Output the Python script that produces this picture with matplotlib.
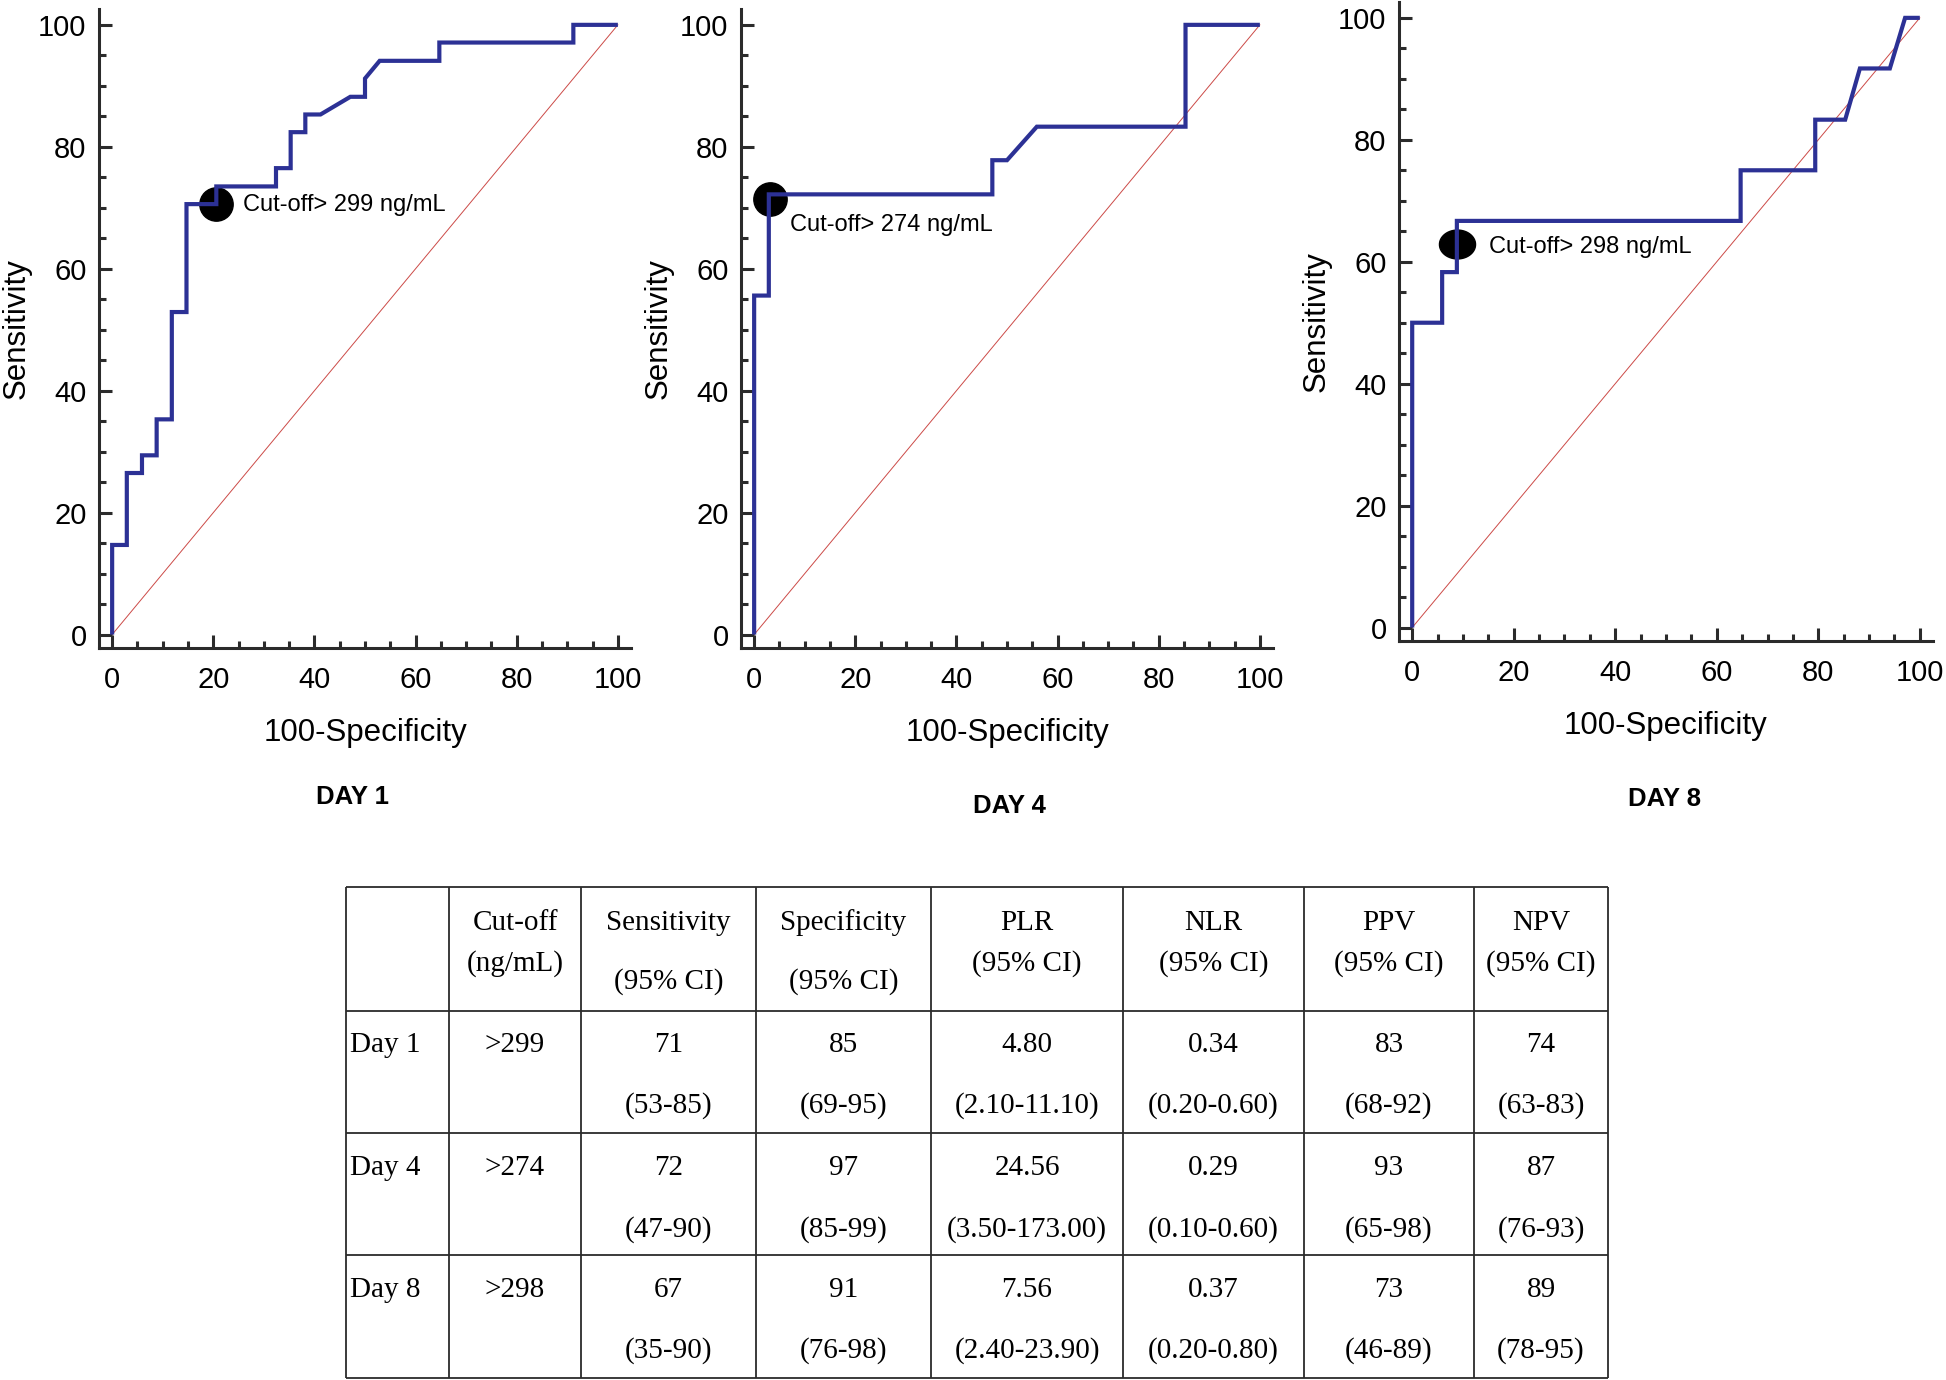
import numpy as np
import matplotlib.pyplot as plt
from matplotlib.path import Path
from matplotlib.ticker import MultipleLocator

plt.rcParams['font.family'] = ['Liberation Sans']

# ROC curves: vertices of the step lines (100-Specificity, Sensitivity), in %
day1_x = [0, 0, 2.9, 2.9, 5.9, 5.9, 8.8, 8.8, 11.8, 11.8, 14.7, 14.7, 20.6, 20.6,
          32.4, 32.4, 35.3, 35.3, 38.2, 38.2, 41.2, 47.1, 50.0, 50.0, 52.9, 64.7,
          64.7, 91.2, 91.2, 100]
day1_y = [0, 14.7, 14.7, 26.5, 26.5, 29.4, 29.4, 35.3, 35.3, 52.9, 52.9, 70.6, 70.6, 73.5,
          73.5, 76.5, 76.5, 82.4, 82.4, 85.3, 85.3, 88.2, 88.2, 91.2, 94.1, 94.1,
          97.1, 97.1, 100, 100]

day4_x = [0, 0, 2.9, 2.9, 47.1, 47.1, 50.0, 55.9, 85.3, 85.3, 100]
day4_y = [0, 55.6, 55.6, 72.2, 72.2, 77.8, 77.8, 83.3, 83.3, 100, 100]

day8_x = [0, 0, 5.9, 5.9, 8.8, 8.8, 64.7, 64.7, 79.4, 79.4, 85.3, 88.2, 94.1, 97.1, 100]
day8_y = [0, 50.0, 50.0, 58.3, 58.3, 66.7, 66.7, 75.0, 75.0, 83.3, 83.3, 91.7, 91.7, 100, 100]

# optimal cut-off points
cut_x = [20.6, 3.1, 8.8]
cut_y = [70.6, 71.4, 62.9]
cut_labels = ["Cut-off> 299 ng/mL", "Cut-off> 274 ng/mL", "Cut-off> 298 ng/mL"]
titles = ["DAY 1", "DAY 4", "DAY 8"]

# table values
col_heads = [("Cut-off", "(ng/mL)"), ("Sensitivity", "(95% CI)"), ("Specificity", "(95% CI)"),
             ("PLR", "(95% CI)"), ("NLR", "(95% CI)"), ("PPV", "(95% CI)"), ("NPV", "(95% CI)")]
row_names = ["Day 1", "Day 4", "Day 8"]
cutoffs = [">299", ">274", ">298"]
sens = ["71", "72", "67"]
sens_ci = ["(53-85)", "(47-90)", "(35-90)"]
spec = ["85", "97", "91"]
spec_ci = ["(69-95)", "(85-99)", "(76-98)"]
plr = ["4.80", "24.56", "7.56"]
plr_ci = ["(2.10-11.10)", "(3.50-173.00)", "(2.40-23.90)"]
nlr = ["0.34", "0.29", "0.37"]
nlr_ci = ["(0.20-0.60)", "(0.10-0.60)", "(0.20-0.80)"]
ppv = ["83", "93", "73"]
ppv_ci = ["(68-92)", "(65-98)", "(46-89)"]
npv = ["74", "87", "89"]
npv_ci = ["(63-83)", "(76-93)", "(78-95)"]

W, H = 1946, 1380
fig = plt.figure(figsize=(W / 100, H / 100), dpi=100)

blue = "#2c3195"
dark = "#2b2b2b"

# ellipse-shaped marker for day 8
t = np.linspace(0, 2 * np.pi, 60)
oval = Path(np.column_stack([np.cos(t), 0.8 * np.sin(t)]))

# axes boxes in pixels: left, top, right, bottom
boxes = [(99, 9, 631, 648), (741, 9, 1273, 648), (1399, 2, 1933, 641)]
curves = [(day1_x, day1_y), (day4_x, day4_y), (day8_x, day8_y)]
text_pos = [(25.9, 70.4), (7.1, 67.2), (15.2, 62.4)]
markers = ['o', 'o', oval]
title_pos = [(352, 797), (1009, 806), (1664, 799)]

for i in range(3):
    l, tp, r, b = boxes[i]
    ax = fig.add_axes([l / W, 1 - b / H, (r - l) / W, (b - tp) / H])
    ax.plot([0, 100], [0, 100], color="#cc4a47", lw=0.7, zorder=1)
    ax.plot(cut_x[i], cut_y[i], marker=markers[i], color="black", ms=24 if i < 2 else 26,
            linestyle="none", zorder=2)
    ax.plot(curves[i][0], curves[i][1], color=blue, lw=3, zorder=3,
            solid_joinstyle="miter", solid_capstyle="butt")
    ax.text(text_pos[i][0], text_pos[i][1], cut_labels[i], fontsize=17,
            ha="left", va="center")
    ax.set_xlim(-2.6, 102.6)
    ax.set_ylim(-2.2, 102.6)
    ax.xaxis.set_major_locator(MultipleLocator(20))
    ax.xaxis.set_minor_locator(MultipleLocator(5))
    ax.yaxis.set_major_locator(MultipleLocator(20))
    ax.yaxis.set_minor_locator(MultipleLocator(5))
    for s in ["top", "right"]:
        ax.spines[s].set_visible(False)
    for s in ["left", "bottom"]:
        ax.spines[s].set_linewidth(2.2)
        ax.spines[s].set_color(dark)
    ax.tick_params(which="major", direction="in", length=9.5, width=2.2, color=dark,
                   labelsize=21)
    ax.tick_params(which="minor", direction="in", length=5, width=2.2, color=dark)
    ax.tick_params(axis="x", pad=13)
    ax.tick_params(axis="y", pad=9)
    ax.set_xlabel("100-Specificity", fontsize=22.5, va="center")
    ax.xaxis.set_label_coords(0.5, -0.133)
    ax.set_ylabel("Sensitivity", fontsize=22.5, va="center")
    ax.yaxis.set_label_coords(-0.155, 0.5)
    fig.text(title_pos[i][0] / W, 1 - title_pos[i][1] / H, titles[i], fontsize=18.5,
             fontweight="bold", ha="center", va="center")

# table drawn in pixel coordinates
tax = fig.add_axes([0, 0, 1, 1], zorder=-1)
tax.set_xlim(0, W)
tax.set_ylim(H, 0)
tax.axis("off")

col_edges = [346, 449, 581, 756, 931, 1123, 1304, 1474, 1608]
row_edges = [887, 1011, 1133, 1255, 1378]
tax.hlines(row_edges, col_edges[0], col_edges[-1], color=dark, lw=1.3)
tax.vlines(col_edges, row_edges[0], row_edges[-1], color=dark, lw=1.3)

serif = ["Liberation Serif"]
fs = 21
centers = [(col_edges[k] + col_edges[k + 1]) / 2 for k in range(1, 8)]
for k, (h1, h2) in enumerate(col_heads):
    y2 = 989 if k in (1, 2) else 971
    tax.text(centers[k], 930, h1, family=serif, fontsize=fs, ha="center", va="baseline")
    tax.text(centers[k], y2, h2, family=serif, fontsize=fs, ha="center", va="baseline")

line1 = [1052, 1175, 1297]
line2 = [1113, 1237, 1358]
firsts = [sens, spec, plr, nlr, ppv, npv]
seconds = [sens_ci, spec_ci, plr_ci, nlr_ci, ppv_ci, npv_ci]
for j in range(3):
    tax.text(350, line1[j], row_names[j], family=serif, fontsize=fs, ha="left", va="baseline")
    tax.text(centers[0], line1[j], cutoffs[j], family=serif, fontsize=fs, ha="center",
             va="baseline")
    for k in range(6):
        tax.text(centers[k + 1], line1[j], firsts[k][j], family=serif, fontsize=fs,
                 ha="center", va="baseline")
        tax.text(centers[k + 1], line2[j], seconds[k][j], family=serif, fontsize=fs,
                 ha="center", va="baseline")

fig.savefig("out.png", dpi=100)
